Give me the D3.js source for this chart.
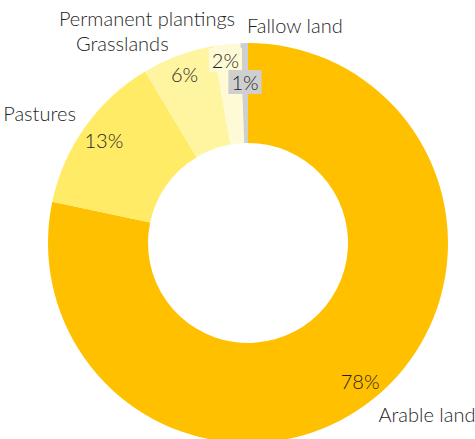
<!DOCTYPE html>
<html>
<head>
<meta charset="utf-8">
<script src="https://cdn.jsdelivr.net/npm/d3@7/dist/d3.min.js"></script>
<style>
  html, body { margin: 0; padding: 0; background: #fff; }
  svg { display: block; }
  text { font-family: Lato, "Open Sans", sans-serif; font-weight: 300; fill: #1f1f1f; }
</style>
</head>
<body>
<svg id="chart" width="475" height="439"></svg>
<script>
// ---- data ----
const categories = ["Arable land", "Pastures", "Grasslands", "Permanent plantings", "Fallow land"];
const values = [78.3, 13.1, 5.8, 2.2, 0.6];
const colors = ["#FFC000", "#FFEB65", "#FFF5A1", "#FFFAD6", "#CFCFCF"];

// ---- layout ----
const cx = 248, cy = 243, R = 200, r0 = 100;
const svg = d3.select("#chart");
const g = svg.append("g").attr("transform", `translate(${cx},${cy})`);

const data = categories.map((c, i) => ({ cat: c, value: values[i], color: colors[i] }));
const pie = d3.pie().value(d => d.value).sort(null);
const arcs = pie(data);
const arc = d3.arc().innerRadius(r0).outerRadius(R);

g.selectAll("path.slice").data(arcs).enter().append("path")
  .attr("class", "slice")
  .attr("d", arc)
  .attr("fill", d => d.data.color);

const fs = 20;

// percentage labels
const pctRadius = { "Arable land": 178, "Pastures": 177, "Grasslands": 181, "Permanent plantings": 184, "Fallow land": 161 };
const pctBox = { "Permanent plantings": true, "Fallow land": true };
const pctG = g.append("g");
arcs.forEach(d => {
  const a = (d.startAngle + d.endAngle) / 2;
  const rr = pctRadius[d.data.cat];
  let x = Math.sin(a) * rr, y = -Math.cos(a) * rr;
  if (d.data.cat === "Permanent plantings") x -= 3;
  const grp = pctG.append("g");
  const t = grp.append("text")
    .attr("x", x).attr("y", y)
    .attr("text-anchor", "middle")
    .attr("dominant-baseline", "central")
    .style("font-size", fs + "px")
    .text(Math.round(d.data.value) + "%");
  if (pctBox[d.data.cat]) {
    const bb = t.node().getBBox();
    grp.insert("rect", "text")
      .attr("x", bb.x - 3).attr("y", bb.y)
      .attr("width", bb.width + 6).attr("height", bb.height)
      .attr("fill", d.data.color);
  }
});

// category labels, placed along an outer ring
const labelR = 215;
const labelNudge = {
  "Arable land": [-5, 12],
  "Pastures": [3, 3],
  "Grasslands": [-4, 9],
  "Permanent plantings": [10, -3],
  "Fallow land": [3, 5]
};
arcs.forEach(d => {
  const a = (d.startAngle + d.endAngle) / 2;
  const n = labelNudge[d.data.cat];
  const x = Math.sin(a) * labelR + n[0];
  const y = -Math.cos(a) * labelR + n[1];
  const right = d.data.cat === "Arable land" || d.data.cat === "Fallow land";
  g.append("text")
    .attr("x", x).attr("y", y)
    .attr("text-anchor", right ? "start" : "end")
    .style("font-size", fs + "px")
    .text(d.data.cat);
});
</script>
</body>
</html>
